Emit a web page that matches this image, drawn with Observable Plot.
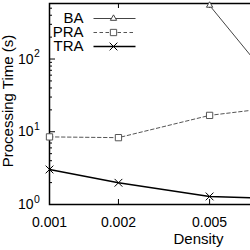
<!DOCTYPE html>
<html><head><meta charset="utf-8">
<script src="https://cdn.jsdelivr.net/npm/d3@7"></script>
<script src="https://cdn.jsdelivr.net/npm/@observablehq/plot@0.6"></script>
<style>html,body{margin:0;padding:0;overflow:hidden;background:#fff;width:250px;height:250px}
#chart svg{max-width:none !important;width:350px;height:250px}</style>
</head><body><div id="chart"></div>
<script>
// data
const density = [0.001, 0.002, 0.005, 0.01];
const baTime = [null, null, 546, 38];
const praTime = [8.5, 8.3, 16.8, 21.9];
const traTime = [3.03, 1.99, 1.29, 1.2];
const seriesNames = ["BA", "PRA", "TRA"];
const xTickValues = [0.001, 0.002, 0.005, 0.01, 0.02];
const xTickLabels = ["0.001", "0.002", "0.005", "0.01", "0.02"];
const yMajor = [1, 10, 100];
const yExponents = ["0", "1", "2"];
const yMinor = [2, 3, 4, 5, 6, 7, 8, 9, 20, 30, 40, 50, 60, 70, 80, 90, 200, 300, 400, 500];

const seriesValues = [baTime, praTime, traTime];
const rows = [];
density.forEach((d, i) => seriesValues.forEach((arr, k) => {
  if (arr[i] != null) rows.push({density: d, time: arr[i], series: seriesNames[k]});
}));

const styles = {
  BA:  {stroke: "#444", strokeWidth: 1, dash: null, symbol: "triangle2", r: 3, fill: "white"},
  PRA: {stroke: "#555", strokeWidth: 1, dash: "3.5,2.5", symbol: "square2", r: 4, fill: "white"},
  TRA: {stroke: "#000", strokeWidth: 1.4, dash: null, symbol: "times", r: 3.6, fill: "none"}
};
const lineSymbol = {draw(ctx) { ctx.moveTo(-21, 0); ctx.lineTo(21, 0); }};

const W = 350, H = 250, ML = 49, MR = 3, MT = 3, MB = 46;
const innerW = W - ML - MR, innerH = H - MT - MB;

const marks = [];
// x tick labels
marks.push(Plot.text(xTickValues, {x: d => d, frameAnchor: "bottom", text: (d, i) => xTickLabels[i],
  textAnchor: "middle", lineAnchor: "middle", dy: 18.5, fontSize: 14}));
// y tick labels: "10" plus raised exponent
marks.push(Plot.text(yMajor, {y: d => d, frameAnchor: "left", text: () => "10",
  textAnchor: "end", lineAnchor: "middle", dx: -16, fontSize: 14}));
marks.push(Plot.text(yMajor, {y: d => d, frameAnchor: "left", text: (d, i) => yExponents[i],
  textAnchor: "start", lineAnchor: "middle", dx: -15.5, dy: -5, fontSize: 10.5}));
// inward ticks
marks.push(Plot.tickX(xTickValues, {x: d => d, insetTop: innerH - 5, stroke: "black"}));
marks.push(Plot.tickX(xTickValues, {x: d => d, insetBottom: innerH - 5, stroke: "black"}));
marks.push(Plot.tickY(yMajor, {y: d => d, insetRight: innerW - 6, stroke: "black"}));
marks.push(Plot.tickY(yMinor, {y: d => d, insetRight: innerW - 3, stroke: "black"}));
// series
for (const s of seriesNames) {
  const st = styles[s];
  const data = rows.filter(r => r.series === s);
  marks.push(Plot.line(data, {x: "density", y: "time", stroke: st.stroke, strokeWidth: st.strokeWidth,
    strokeDasharray: st.dash, clip: true}));
}
marks.push(Plot.frame({stroke: "black", strokeWidth: 1.5}));
for (const s of seriesNames) {
  const st = styles[s];
  const data = rows.filter(r => r.series === s);
  marks.push(Plot.dot(data, {x: "density", y: "time", symbol: st.symbol, r: st.r, stroke: st.stroke,
    fill: st.fill, strokeWidth: 1}));
}
// legend
seriesNames.forEach((s, i) => {
  const st = styles[s];
  const dy = 15 + 14 * i;
  marks.push(Plot.text([s], {text: d => d, frameAnchor: "top-left", dx: 34, dy, textAnchor: "end",
    lineAnchor: "middle", fontSize: 15}));
  marks.push(Plot.dot([s], {frameAnchor: "top-left", dx: 65, dy, symbol: lineSymbol, stroke: st.stroke,
    strokeWidth: st.strokeWidth, strokeDasharray: st.dash}));
  marks.push(Plot.dot([s], {frameAnchor: "top-left", dx: 64, dy, symbol: st.symbol, r: st.r, stroke: st.stroke,
    fill: st.fill, strokeWidth: 1}));
});
// axis titles
marks.push(Plot.text(["Processing Time (s)"], {text: d => d, frameAnchor: "left", rotate: -90,
  textAnchor: "middle", lineAnchor: "middle", dx: -41, dy: -3, fontSize: 15}));
marks.push(Plot.text(["Density"], {text: d => d, frameAnchor: "bottom", textAnchor: "middle",
  lineAnchor: "middle", dy: 34.5, fontSize: 15}));

const chart = Plot.plot({
  width: W, height: H, marginLeft: ML, marginRight: MR, marginTop: MT, marginBottom: MB,
  style: {fontFamily: "'Liberation Sans', Arial, sans-serif", fontSize: "14px", background: "white", color: "black", maxWidth: "none"},
  x: {type: "log", domain: [0.001, 0.02], axis: null},
  y: {type: "log", domain: [1, 580], axis: null},
  marks
});
document.getElementById("chart").appendChild(chart);
</script>
</body></html>
